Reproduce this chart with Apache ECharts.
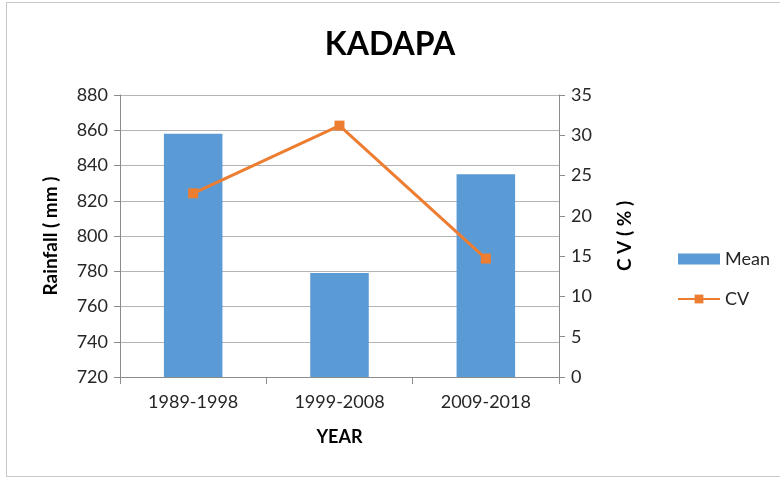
<!DOCTYPE html>
<html>
<head>
<meta charset="utf-8">
<script src="https://cdn.jsdelivr.net/npm/echarts@6/dist/echarts.min.js"></script>
<style>
	html, body { margin: 0; padding: 0; background: #fff; }
	#wrap { position: relative; width: 780px; height: 479px; overflow: hidden; }
	#box { position: absolute; left: 6px; top: 2px; width: 800px; height: 473px; border: 1px solid #c8c8c8; }
	#chart { position: absolute; left: 0; top: 0; width: 780px; height: 479px; }
</style>
</head>
<body>
<div id="wrap">
	<div id="box"></div>
	<div id="chart"></div>
</div>
<script>
//KADAPA 降雨均值与变异系数
var years = ['1989-1998', '1999-2008', '2009-2018'];
var mean = [858, 779, 835];      //Rainfall (mm)
var cv = [22.8, 31.2, 14.7];     //CV (%)

var font = 'Lato';
var txt = '#262626';

var myChart = echarts.init(document.getElementById('chart'));
var option = {
	backgroundColor: 'transparent',
	title: {
		text: 'KADAPA',
		left: 'center',
		top: 24,
		textStyle: { fontFamily: font, fontSize: 32, fontWeight: 'bold', color: '#000' }
	},
	legend: {
		orient: 'vertical',
		left: 672,
		top: 245,
		itemWidth: 42,
		itemHeight: 11,
		itemGap: 22,
		textStyle: { fontFamily: font, fontSize: 18, color: txt, padding: [0, 0, 0, 0] },
		data: [
			{ name: 'Mean', icon: 'rect' },
			{ name: 'CV' }
		]
	},
	grid: { left: 120, right: 221, top: 95, bottom: 102 },
	xAxis: [{
		type: 'category',
		data: years,
		name: 'YEAR',
		nameLocation: 'middle',
		nameGap: 51,
		nameTextStyle: { fontFamily: font, fontSize: 18, fontWeight: 'bold', color: '#000' },
		axisLine: { lineStyle: { color: '#8c8c8c' } },
		axisTick: { show: true, length: 7, lineStyle: { color: '#8c8c8c' } },
		axisLabel: { fontFamily: font, fontSize: 18, color: txt, margin: 16 }
	}],
	yAxis: [{
		type: 'value',
		min: 720,
		max: 880,
		interval: 20,
		name: 'Rainfall ( mm )',
		nameLocation: 'middle',
		nameGap: 60,
		nameTextStyle: { fontFamily: font, fontSize: 19, fontWeight: 'bold', color: '#000' },
		axisLine: { show: true, lineStyle: { color: '#8c8c8c' } },
		axisTick: { show: true, length: 6, lineStyle: { color: '#8c8c8c' } },
		axisLabel: { fontFamily: font, fontSize: 18, color: txt, margin: 12 },
		splitLine: { lineStyle: { color: '#b4b4b4', width: 1 } }
	}, {
		type: 'value',
		min: 0,
		max: 35,
		interval: 5,
		position: 'right',
		name: 'C V ( % )',
		nameLocation: 'middle',
		nameGap: 56,
		nameRotate: 90,
		nameTextStyle: { fontFamily: font, fontSize: 19, fontWeight: 'bold', color: '#000' },
		axisLine: { show: true, lineStyle: { color: '#8c8c8c' } },
		axisTick: { show: true, length: 6, lineStyle: { color: '#8c8c8c' } },
		axisLabel: { fontFamily: font, fontSize: 18, color: txt, margin: 12 },
		splitLine: { show: false }
	}],
	series: [{
		name: 'Mean',
		type: 'bar',
		data: mean,
		barWidth: '40%',
		itemStyle: { color: '#5b9bd5' }
	}, {
		name: 'CV',
		type: 'line',
		yAxisIndex: 1,
		data: cv,
		symbol: 'rect',
		symbolSize: 10,
		lineStyle: { color: '#ed7d31', width: 3 },
		itemStyle: { color: '#ed7d31' }
	}],
	animation: false
};
myChart.setOption(option);
</script>
</body>
</html>
